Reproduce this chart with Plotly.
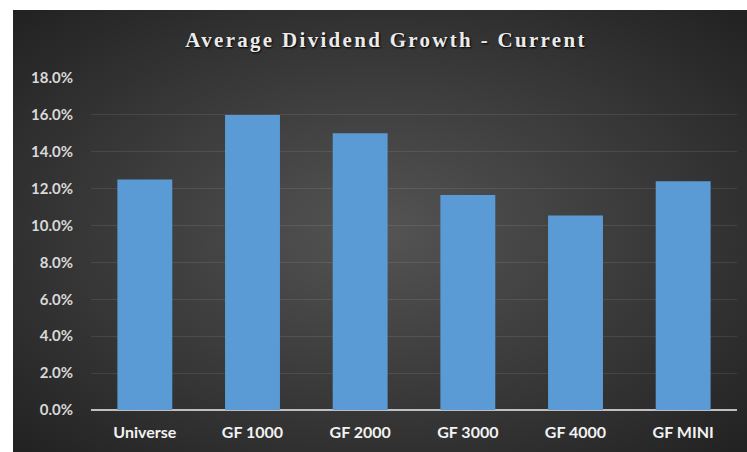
import base64
import plotly.graph_objects as go

categories = ["Universe", "GF 1000", "GF 2000", "GF 3000", "GF 4000", "GF MINI"]
growth = [0.125, 0.160, 0.150, 0.1165, 0.1055, 0.124]
tick_vals = [0.0, 0.02, 0.04, 0.06, 0.08, 0.10, 0.12, 0.14, 0.16, 0.18]
tick_text = ["0.0%", "2.0%", "4.0%", "6.0%", "8.0%", "10.0%", "12.0%", "14.0%", "16.0%", "18.0%"]

W, H = 747, 452
L, R, T, B = 91, 10, 78, 42
pw, ph = W - L - R, H - T - B

# dark panel with radial gradient, as an svg background image
svg = """<svg xmlns='http://www.w3.org/2000/svg' width='734' height='442' preserveAspectRatio='none'>
<defs><radialGradient id='g' cx='50%' cy='50%' r='70%'>
<stop offset='0%' stop-color='#545454'/><stop offset='100%' stop-color='#222222'/>
</radialGradient></defs><rect width='734' height='442' fill='url(#g)'/></svg>"""
bg_src = "data:image/svg+xml;base64," + base64.b64encode(svg.encode()).decode()

fig = go.Figure()
fig.add_trace(go.Bar(
    x=categories, y=growth,
    marker=dict(color="#5b9bd5", line=dict(width=0)),
    hoverinfo="x+y",
))

fig.update_layout(
    width=W, height=H,
    margin=dict(l=L, r=R, t=T, b=B),
    paper_bgcolor="white",
    plot_bgcolor="rgba(0,0,0,0)",
    bargap=0.49,
    showlegend=False,
    title=dict(
        text="Average Dividend Growth - Current",
        x=(386 - L) / pw, xref="paper", xanchor="center",
        y=1 - 40 / H, yanchor="middle",
        font=dict(family="Liberation Serif, serif", size=21, color="#ebebeb", weight="bold"),
    ),
    images=[dict(
        source=bg_src, xref="paper", yref="paper",
        x=(13 - L) / pw, y=(H - B - 10) / ph,
        sizex=(W - 13) / pw, sizey=(H - 10) / ph,
        xanchor="left", yanchor="top", sizing="stretch", layer="below",
    )],
    xaxis=dict(
        showgrid=False, zeroline=False, showline=False,
        ticks="", ticklabelstandoff=11,
        tickfont=dict(family="Lato, sans-serif", size=16, color="#f2f2f2", weight="bold"),
    ),
    yaxis=dict(
        range=[0, 0.18], tickvals=tick_vals, ticktext=tick_text,
        showgrid=True, gridcolor="rgba(255,255,255,0.09)", gridwidth=1,
        zeroline=True, zerolinecolor="#bfbfbf", zerolinewidth=2,
        showline=False, ticks="", ticklabelstandoff=17,
        tickfont=dict(family="Lato, sans-serif", size=15, color="#d9d9d9", weight="bold"),
    ),
)

fig.write_html("out.html", config={"displayModeBar": False}, post_script="""
document.body.style.margin = '0';
var t = document.querySelector('.gtitle');
if (t) { t.setAttribute('letter-spacing', '2.3px'); t.style.textShadow = '1px 1px 2px #000'; }
""")
